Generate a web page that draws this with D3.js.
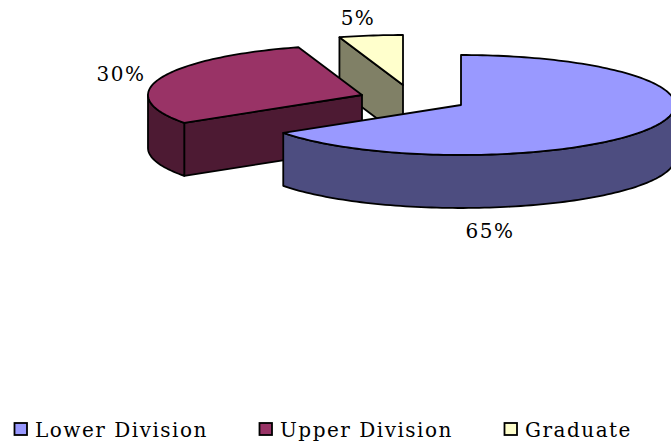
<!DOCTYPE html>
<html>
<head>
<meta charset="utf-8">
<script src="https://cdn.jsdelivr.net/npm/d3@7/dist/d3.min.js"></script>
<style>
  html, body { margin: 0; padding: 0; background: #fff; overflow: hidden; }
  text { font-family: "DejaVu Serif", serif; fill: #000; }
</style>
</head>
<body>
<div id="chart1"></div>
<script>
// values
const categories = ["Lower Division", "Upper Division", "Graduate"];
const shares = [65.6, 29.6, 4.8];
const shareLabels = ["65%", "30%", "5%"];

const topColors = ["#9999ff", "#993366", "#ffffcc"];
const wallColors = ["#4d4d80", "#4d1a33", "#808066"];

const width = 671;
const height = 445;
const rx = 214;
const ry = 50;
const depth = 53;

// where the apex of each exploded slice sits
const apexes = [[461, 105], [362, 95], [403, 85]];
const labelPos = [[490, 238], [121, 81], [358, 25]];
const legendX = [14.5, 259.5, 504.5];

let svg = d3.select("#chart1")
  .append("svg")
  .attr("width", width)
  .attr("height", height);

let arcs = d3.pie().value(d => d).sort(null)(shares);

// angle is clockwise from 12 o'clock like d3.pie, squashed to look tilted
let xScale = d3.scaleLinear().domain([-1, 1]).range([-rx, rx]);
let yScale = d3.scaleLinear().domain([-1, 1]).range([ry, -ry]);
let rimLine = d3.line();

function rimPoint(a, apex, drop) {
  return [apex[0] + xScale(Math.sin(a)), apex[1] + yScale(Math.cos(a)) + drop];
}

function rim(a0, a1, apex, drop) {
  let steps = Math.max(2, Math.ceil(Math.abs(a1 - a0) * 40));
  return d3.range(steps + 1).map(i => rimPoint(a0 + (a1 - a0) * i / steps, apex, drop));
}

function drawSlice(i) {
  let d = arcs[i];
  let apex = apexes[i];
  let g = svg.append("g").attr("class", "slice");
  let style = sel => sel.attr("stroke", "#000").attr("stroke-width", 1.8).attr("stroke-linejoin", "round");

  // flat cut face of the slice, only these two look towards the viewer
  if (i === 1 || i === 2) {
    let p = rimPoint(d.startAngle, apex, 0);
    let wall = [apex, p, [p[0], p[1] + depth], [apex[0], apex[1] + depth]];
    g.append("path").attr("d", rimLine(wall) + "Z").attr("fill", wallColors[i]).call(style);
  }

  // outer wall, only the part in front
  let a0 = Math.max(d.startAngle, Math.PI / 2);
  let a1 = Math.min(d.endAngle, 3 * Math.PI / 2);
  if (a1 > a0) {
    let wall = rim(a0, a1, apex, 0).concat(rim(a1, a0, apex, depth));
    g.append("path").attr("d", rimLine(wall) + "Z").attr("fill", wallColors[i]).call(style);
  }

  // top face
  let top = [apex].concat(rim(d.startAngle, d.endAngle, apex, 0));
  g.append("path").attr("d", rimLine(top) + "Z").attr("fill", topColors[i]).call(style);
}

// back to front
drawSlice(2);
drawSlice(1);
drawSlice(0);

svg.selectAll("text.pct")
  .data(shareLabels)
  .enter()
  .append("text")
  .attr("class", "pct")
  .text(d => d)
  .attr("x", (d, i) => labelPos[i][0])
  .attr("y", (d, i) => labelPos[i][1])
  .attr("text-anchor", "middle")
  .style("font-size", "20px")
  .style("letter-spacing", "1.5px");

let legend = svg.selectAll("g.legend")
  .data(categories)
  .enter()
  .append("g")
  .attr("class", "legend")
  .attr("transform", (d, i) => `translate(${legendX[i]},423)`);

legend.append("rect")
  .attr("width", 12.5)
  .attr("height", 12)
  .attr("fill", (d, i) => topColors[i])
  .attr("stroke", "#000")
  .attr("stroke-width", 1.8);

legend.append("text")
  .text(d => d)
  .attr("x", 20.5)
  .attr("y", 13.5)
  .style("font-size", "20px")
  .style("letter-spacing", "1.5px");
</script>
</body>
</html>
